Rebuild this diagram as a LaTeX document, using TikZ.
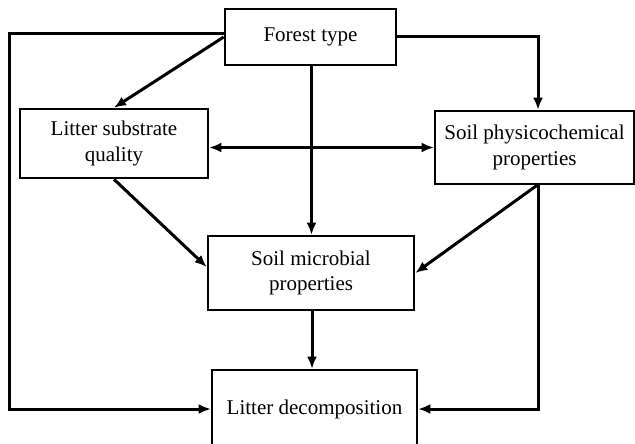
\documentclass[tikz,border=0pt]{standalone}
\usepackage{fontspec}
\setmainfont{Liberation Serif}
\usetikzlibrary{arrows.meta}
\begin{document}
\begin{tikzpicture}[x=1pt,y=-1pt,
  box/.style={draw=black,line width=2.6pt,rectangle,inner sep=0pt,align=center,
    font=\fontsize{21}{25.5}\selectfont},
  conn/.style={line width=3pt,-{Latex[length=12pt,width=10pt]}},
  biconn/.style={line width=3pt,{Latex[length=12pt,width=10pt]}-{Latex[length=12pt,width=10pt]}}]
\useasboundingbox[fill=white] (0,0) rectangle (635,444);
\node[box,minimum width=171pt,minimum height=56pt] (ft) at (310.5,37) {Forest type};
\node[box,minimum width=188pt,minimum height=69pt] (lsq) at (114,143.5) {Litter substrate\\quality};
\node[box,minimum width=199pt,minimum height=73pt] (spp) at (534.5,147.5) {Soil physicochemical\\properties};
\node[box,minimum width=206pt,minimum height=74pt] (smp) at (311,273) {Soil microbial\\properties};
\node[box,minimum width=205pt,minimum height=78pt] (ld) at (314.5,409) {Litter decomposition};
\coordinate (lc) at (9,34);
% left loop
\draw[conn] ([yshift=3pt]ft.west) -- ([yshift=3pt]ft.west -| lc) |- (ld.west);
% forest -> litter quality
\draw[conn] (ft.west) -- (lsq.north);
% forest -> microbial
\draw[conn] ([xshift=1pt]ft.south) -- ([xshift=1pt]ft.south |- smp.north);
% forest -> physicochemical
\draw[conn] (ft.east) -| ([xshift=3.5pt]spp.north);
% litter quality <-> physicochemical
\draw[biconn] (lsq.east |- spp.west) -- (spp.west);
% litter quality -> microbial
\draw[conn] (lsq.south) -- ([yshift=6pt]smp.west);
% physicochemical -> microbial
\draw[conn] ([xshift=2.5pt]spp.south) -- (smp.east);
% physicochemical -> decomposition
\draw[conn] ([xshift=3.5pt]spp.south) |- (ld.east);
% microbial -> decomposition
\draw[conn] ([xshift=1pt]smp.south) -- ([xshift=1pt]smp.south |- ld.north);
\end{tikzpicture}
\end{document}
